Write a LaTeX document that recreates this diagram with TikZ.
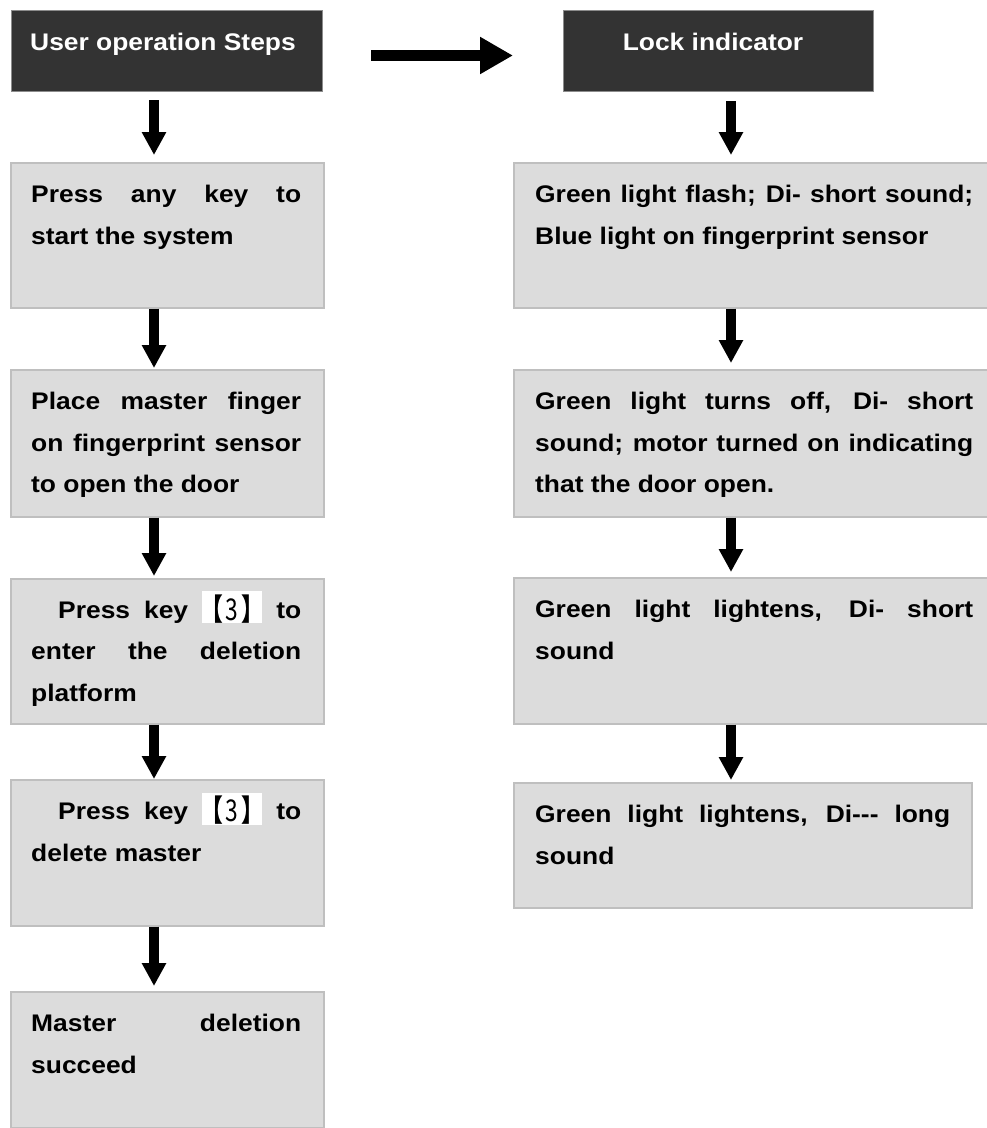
\documentclass[tikz,border=0pt]{standalone}
\usepackage{fontspec}
\usepackage{graphicx}
\setmainfont{Liberation Sans}[FakeStretch=1.1]
\newfontfamily\cjk{Noto Sans CJK SC}
\usetikzlibrary{arrows.meta}
\definecolor{boxfill}{HTML}{DCDCDC}
\definecolor{boxborder}{HTML}{BFBFBF}
\definecolor{hdrfill}{HTML}{333333}
\definecolor{hdrborder}{HTML}{8C8C8C}
\newcommand\keythree{{\setlength{\fboxsep}{0pt}\colorbox{white}{\makebox[60pt][c]{\rule[-5pt]{0pt}{32pt}\raisebox{-2pt}{\scalebox{0.95}[1.25]{\cjk\fontsize{24}{24}\selectfont{\bfseries 【}\kern3pt{\mdseries 3}\kern3pt{\bfseries 】}}}}}}}
\tikzset{
  box/.style={draw=boxborder, line width=1.5pt, fill=boxfill, anchor=north west, inner sep=0pt},
  hdr/.style={draw=hdrborder, line width=1pt, fill=hdrfill, anchor=north west, inner sep=0pt},
  txt/.style={anchor=base west, inner sep=0pt, align=justify, font=\bfseries\fontsize{24}{41.5}\selectfont},
  htxt/.style={anchor=base, inner sep=0pt, text=white, font=\bfseries\fontsize{24}{28}\selectfont},
  arr/.style={line width=10pt, -{Triangle[width=23pt,length=23pt]}},
  bigarr/.style={line width=11pt, -{Triangle[width=35pt,length=33pt]}}
}
\begin{document}
\begin{tikzpicture}[x=1pt,y=-1pt]
\useasboundingbox (0,0) rectangle (987,1128);
\clip (0,0) rectangle (987,1128);
% headers
\node[hdr, minimum width=311pt, minimum height=81pt] (H1) at (11,10) {};
\node[htxt] (H1t) at (163,50) {User operation Steps};
\node[hdr, minimum width=310pt, minimum height=81pt] (H2) at (563,10) {};
\node[htxt] (H2t) at (713,50) {Lock indicator};
% left column
\node[box, minimum width=313pt, minimum height=145pt] (L1) at (10,162) {};
\node[box, minimum width=313pt, minimum height=147pt] (L2) at (10,369) {};
\node[box, minimum width=313pt, minimum height=145pt] (L3) at (10,578) {};
\node[box, minimum width=313pt, minimum height=146pt] (L4) at (10,779) {};
\node[box, minimum width=313pt, minimum height=136pt] (L5) at (10,991) {};
\node[txt, text width=270pt] (L1t) at (31,202.5) {Press any key to\linebreak start the system};
\node[txt, text width=270pt] (L2t) at (31,409.5) {Place master finger\linebreak on fingerprint sensor\linebreak to open the door};
\node[txt, text width=270pt] (L3t) at (31,618) {\hspace*{27pt}Press key \keythree{} to\linebreak enter the deletion\linebreak platform};
\node[txt, text width=270pt] (L4t) at (31,819.5) {\hspace*{27pt}Press key \keythree{} to\linebreak delete master};
\node[txt, text width=270pt] (L5t) at (31,1031.5) {Master deletion\linebreak succeed};
% right column
\node[box, minimum width=480pt, minimum height=145pt] (R1) at (513,162) {};
\node[box, minimum width=480pt, minimum height=147pt] (R2) at (513,369) {};
\node[box, minimum width=480pt, minimum height=146pt] (R3) at (513,577) {};
\node[box, minimum width=458pt, minimum height=125pt] (R4) at (513,782) {};
\node[txt, text width=438pt] (R1t) at (535,202.5) {Green light flash; Di- short sound;\linebreak Blue light on fingerprint sensor};
\node[txt, text width=438pt] (R2t) at (535,409.5) {Green light turns off, Di- short\linebreak sound; motor turned on indicating\linebreak that the door open.};
\node[txt, text width=438pt] (R3t) at (535,617.5) {Green light lightens, Di- short\linebreak sound};
\node[txt, text width=415pt] (R4t) at (535,822.5) {Green light lightens, Di-{}-{}- long\linebreak sound};
% arrows
\coordinate (lc) at (154,0);
\coordinate (rc) at (731,0);
\coordinate (ay) at (0,55.5);
\draw[bigarr, shorten <=48pt, shorten >=50pt] (H1.east |- ay) -- (H2.west |- ay);
\draw[arr, shorten <=8pt, shorten >=7pt] (H1.south -| lc) -- (L1.north -| lc);
\draw[arr, shorten >=1pt] (L1.south -| lc) -- (L2.north -| lc);
\draw[arr, shorten >=2pt] (L2.south -| lc) -- (L3.north -| lc);
\draw[arr] (L3.south -| lc) -- (L4.north -| lc);
\draw[arr, shorten >=5pt] (L4.south -| lc) -- (L5.north -| lc);
\draw[arr, shorten <=9pt, shorten >=7pt] (H2.south -| rc) -- (R1.north -| rc);
\draw[arr, shorten >=6pt] (R1.south -| rc) -- (R2.north -| rc);
\draw[arr, shorten >=5pt] (R2.south -| rc) -- (R3.north -| rc);
\draw[arr, shorten >=2pt] (R3.south -| rc) -- (R4.north -| rc);
\end{tikzpicture}
\end{document}
